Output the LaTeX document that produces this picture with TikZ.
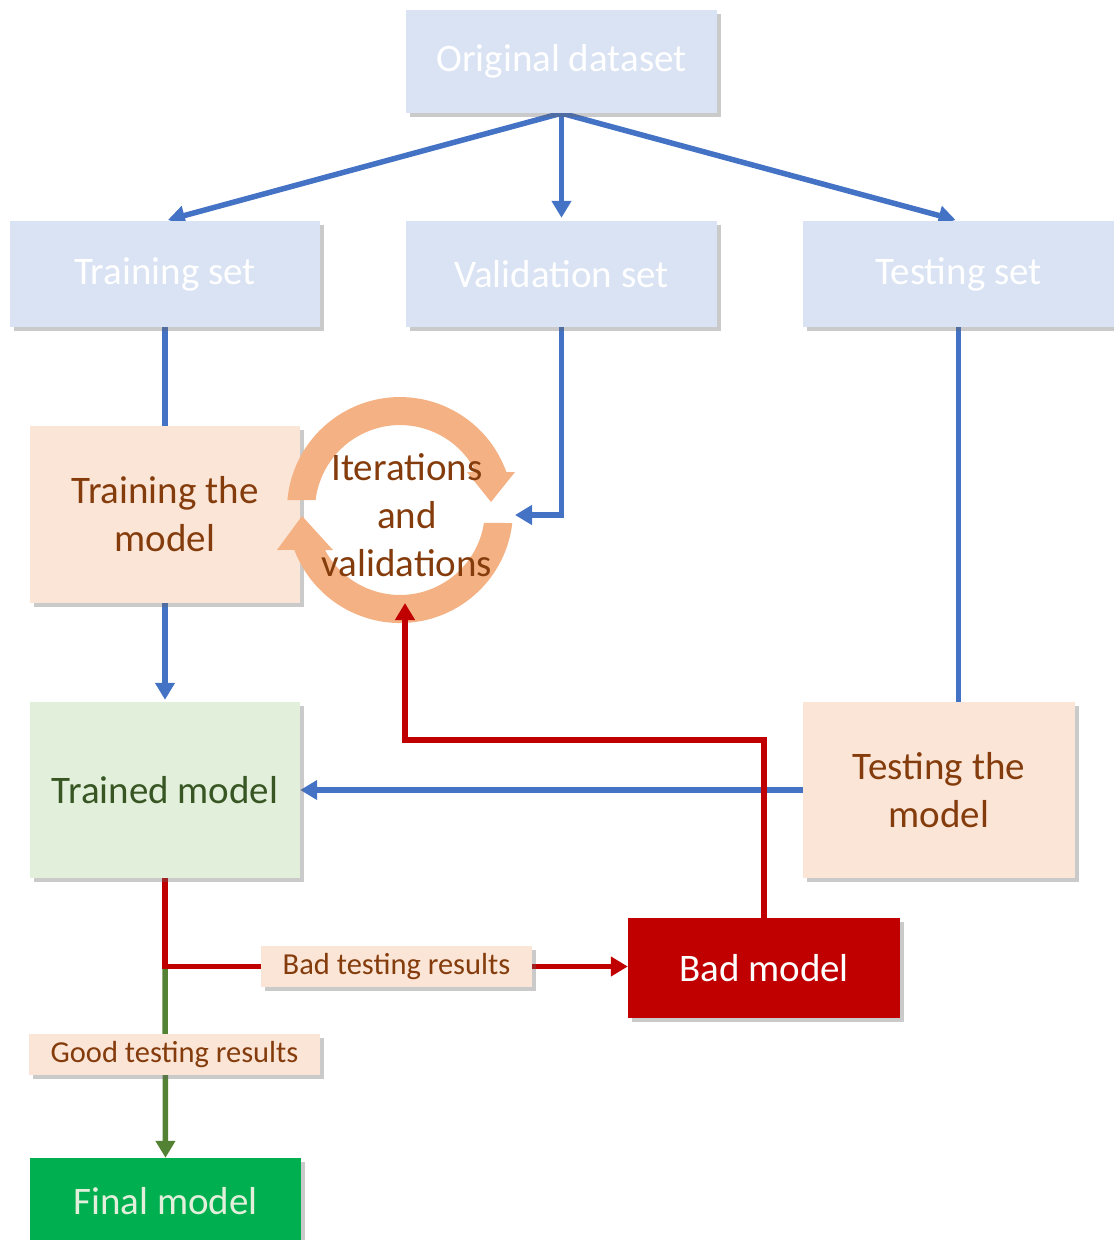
\documentclass[tikz,border=0pt]{standalone}
\usepackage{fontspec}
\setmainfont{Carlito}
\usetikzlibrary{shadows,arrows.meta}
\definecolor{boxblue}{HTML}{DAE3F3}
\definecolor{boxorange}{HTML}{FBE5D6}
\definecolor{boxgreen}{HTML}{E2EFDA}
\definecolor{lineblue}{HTML}{4472C4}
\definecolor{linered}{HTML}{C00000}
\definecolor{linegreen}{HTML}{548235}
\definecolor{brown}{HTML}{843C0C}
\definecolor{darkgreen}{HTML}{375623}
\definecolor{ringcol}{HTML}{F4B183}
\definecolor{finalgreen}{HTML}{00B050}
\pgfdeclarelayer{bg}
\pgfdeclarelayer{fg}
\pgfsetlayers{bg,main,fg}
\tikzset{
  shad/.style={drop shadow={shadow xshift=4pt,shadow yshift=-4pt,opacity=0.35,fill=black!60}},
  box/.style={shad,inner sep=0pt,align=center,font=\fontsize{39}{48}\selectfont},
  bluebox/.style={box,fill=boxblue,text=white},
  orangebox/.style={box,fill=boxorange,text=brown},
  lbl/.style={shad,inner sep=0pt,fill=boxorange,text=brown,font=\fontsize{30.5}{36}\selectfont},
  myline/.style={line width=5.5pt},
  myarrow/.style={-{Triangle[length=17pt,width=19pt]}},
}
\begin{document}
\begin{tikzpicture}[x=1pt,y=-1pt]
\useasboundingbox (0,0) rectangle (1114,1240);
\clip (0,0) rectangle (1114,1240);
% boxes
\node[bluebox,minimum width=311pt,minimum height=103pt] (orig) at (561.5,61.5) {Original dataset};
\node[bluebox,minimum width=310pt,minimum height=106pt] (trainset) at (165,274) {Training set};
\node[bluebox,minimum width=311pt,minimum height=106pt] (valset) at (561.5,274) {Validation set};
\node[bluebox,minimum width=311pt,minimum height=106pt] (testset) at (958.5,274) {Testing set};
\node[orangebox,minimum width=270pt,minimum height=177pt] (trainm) at (165,514.5) {Training the\\model};
\node[box,fill=boxgreen,text=darkgreen,minimum width=270pt,minimum height=176pt] (trained) at (165,790) {Trained model};
\node[orangebox,minimum width=272pt,minimum height=176pt] (testm) at (939,790) {Testing the\\model};
\node[box,fill=linered,text=white,minimum width=272pt,minimum height=100pt] (bad) at (764,968) {Bad model};
\node[box,fill=finalgreen,text=boxgreen,minimum width=271pt,minimum height=110pt] (final) at (165.5,1213) {};
\node[font=\fontsize{39}{48}\selectfont,text=boxgreen] (finaltxt) at (165.5,1201) {Final model};
\node[lbl,minimum width=271pt,minimum height=41pt] (badlbl) at (396.5,966.5) {Bad testing results};
\node[lbl,minimum width=291pt,minimum height=41pt] (goodlbl) at (174.5,1054.5) {Good testing results};
\coordinate (ringE) at (515,515);
\coordinate (ringS) at (405,603);
\coordinate (redturn) at (405,740);
\coordinate (redend) at (405,650);
\begin{pgfonlayer}{fg}
% ring
\begin{scope}[shift={(400,510)},x=1pt,y=1pt]
\fill[ringcol] (-112.6,10) arc[start angle=174.9,end angle=19.6,radius=113]
  -- (115,38) -- (91,8) -- (67,38) -- (76,38)
  arc[start angle=26.6,end angle=173.2,radius=85] -- cycle;
\fill[ringcol] (112.3,-13) arc[start angle=-6.6,end angle=-159.3,radius=113]
  -- (-123,-40) -- (-98,-6) -- (-67,-40) -- (-75,-40)
  arc[start angle=-151.9,end angle=-8.8,radius=85] -- cycle;
\end{scope}
\draw[myline,linered,myarrow] (redend) -- (ringS);
\node[font=\fontsize{39}{48}\selectfont,text=brown,align=center] (iter) at (407,515) {Iterations\\and\\validations};
\end{pgfonlayer}
% connectors
\begin{pgfonlayer}{bg}
\draw[myline,lineblue,myarrow,shorten >=3pt] (orig.south) -- (trainset.north);
\draw[myline,lineblue,myarrow,shorten >=3pt] (orig.south) -- (valset.north);
\draw[myline,lineblue,myarrow,shorten >=3pt] (orig.south) -- (testset.north);
\draw[myline,lineblue] (trainset.south) -- (trainm.north);
\draw[myline,lineblue] (testset.south) -- (testset.south |- testm.north);
\draw[myline,lineblue,myarrow] (valset.south) |- (ringE);
\draw[myline,lineblue,myarrow,shorten >=2pt] (trainm.south) -- (trained.north);
\draw[myline,lineblue,myarrow] (testm.west) -- (trained.east);
\coordinate (junc) at (trained.south |- badlbl.west);
\draw[myline,linegreen,myarrow] (junc) -- (final.north);
\draw[myline,linered] (trained.south) |- (badlbl.west);
\draw[myline,linered,myarrow] (badlbl.east) -- (badlbl.east -| bad.west);
\draw[myline,linered] (bad.north) |- (redturn) -- (redend);
\end{pgfonlayer}
\end{tikzpicture}
\end{document}
